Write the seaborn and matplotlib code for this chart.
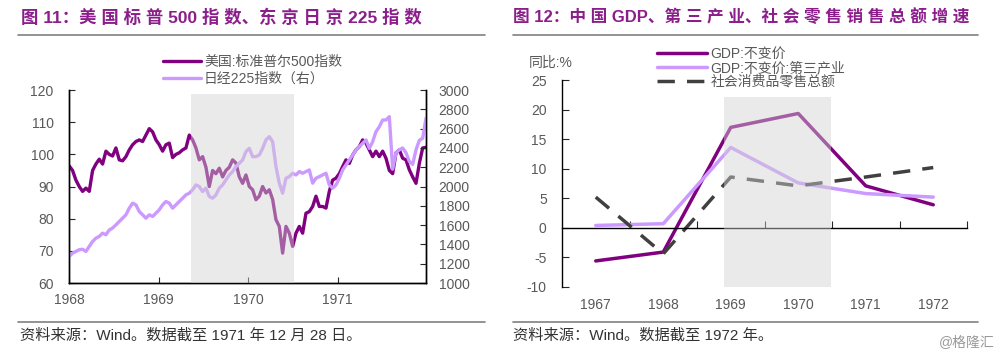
import numpy as np
import pandas as pd
import matplotlib
matplotlib.use("Agg")
import matplotlib.pyplot as plt
import matplotlib.dates as mdates
from matplotlib.lines import Line2D
import seaborn as sns

sns.set_style("ticks")
plt.rcParams['font.family'] = ['Liberation Sans', 'Noto Sans CJK SC']
plt.rcParams['axes.unicode_minus'] = False

# ---- 图11 data (roughly every 2 weeks)
sp500 = [96.4, 95, 92, 90, 88.5, 89.5, 88.5, 95, 97, 98.5, 97, 101, 100, 99.5, 102,
         98.3, 98, 99.3, 101.4, 103, 104, 104.5, 104, 106, 108, 107, 104.5, 103, 101,
         103, 103.5, 99, 100, 100.5, 101.4, 102, 106, 104.5, 102, 98.3, 99.3, 96, 90,
         95, 94, 95.7, 93, 95, 96, 98.3, 97.3, 93, 91, 93.6, 90, 89, 85.9, 87, 90, 88,
         89, 86, 79.7, 77.6, 69.3, 77.6, 75.5, 71.4, 75.5, 77.6, 75.5, 81.7, 82.2, 83.8,
         87, 83.8, 83.8, 83.3, 88.5, 92, 92.6, 94, 96.2, 98.3, 97.2, 99.8, 101.4, 102.4,
         104.5, 103.5, 101.4, 99.3, 101, 99.3, 101, 98.8, 95, 94, 100.5, 101.4, 98.8,
         98.3, 95.2, 93, 91, 97.2, 102, 102.2]
nikkei = [1276, 1310, 1327, 1345, 1350, 1327, 1380, 1430, 1465, 1483, 1517, 1500, 1550,
          1570, 1603, 1638, 1672, 1707, 1776, 1828, 1810, 1741, 1707, 1672, 1707, 1690,
          1724, 1759, 1810, 1845, 1828, 1776, 1810, 1845, 1879, 1914, 1931, 1966, 2017,
          2000, 1948, 1983, 1897, 1879, 1914, 1983, 2017, 2069, 2120, 2155, 2207, 2241,
          2276, 2362, 2396, 2310, 2310, 2327, 2396, 2483, 2517, 2465, 2207, 2035, 1931,
          2086, 2103, 2138, 2120, 2155, 2138, 2155, 2172, 2035, 2086, 2103, 2120, 2138,
          2017, 1983, 2017, 2086, 2172, 2224, 2276, 2327, 2379, 2414, 2448, 2483, 2396,
          2465, 2569, 2620, 2690, 2690, 2724, 2180, 2350, 2380, 2400, 2350, 2260, 2230,
          2380, 2480, 2500, 2710]
dates = pd.date_range("1968-01-02", "1971-12-28", periods=len(sp500))
shade_left = (pd.Timestamp("1969-05-12"), pd.Timestamp("1970-07-08"))

# ---- 图12 data
years = ["1967", "1968", "1969", "1970", "1971", "1972"]
gdp = [-5.6, -4.1, 17.0, 19.35, 7.1, 3.9]
gdp_tertiary = [0.4, 0.7, 13.6, 7.6, 5.8, 5.2]
retail = [5.2, -4.4, 8.6, 7.1, 8.6, 10.2]
shade_right = (1.9, 3.48)

dark = "#800080"
light = "#CC99FF"
grey = "#595959"
title_c = "#8B1E8B"
shade_c = "#D2D2D2"

fig = plt.figure(figsize=(10, 3.56), dpi=100)

# titles + rules
fig.text(0.021, 1 - 17 / 356, "图 11：美 国 标 普 500 指 数、东 京 日 京 225 指 数",
         fontsize=12.5, weight="bold", color=title_c, va="center")
fig.text(0.513, 1 - 17 / 356, "图 12：中 国 GDP、第 三 产 业、社 会 零 售 销 售 总 额 增 速",
         fontsize=12, weight="bold", color=title_c, va="center")
for x0, x1 in [(0.018, 0.485), (0.513, 0.978)]:
    fig.add_artist(Line2D([x0, x1], [1 - 35 / 356] * 2, transform=fig.transFigure, color="#808080", lw=1.2))
    fig.add_artist(Line2D([x0, x1], [1 - 322 / 356] * 2, transform=fig.transFigure, color="#808080", lw=1.2))

fig.text(0.020, 1 - 336 / 356, "资料来源：Wind。数据截至 1971 年 12 月 28 日。", fontsize=11, color="#333333", va="center")
fig.text(0.513, 1 - 336 / 356, "资料来源：Wind。数据截至 1972 年。", fontsize=11, color="#333333", va="center")
fig.text(0.995, 1 - 343 / 356, "@格隆汇", fontsize=10, color="#999999", va="center", ha="right")

# ---- left chart
ax1 = fig.add_axes([0.069, 0.205, 0.357, 0.542])
sns.lineplot(x=dates, y=sp500, ax=ax1, color=dark, lw=2.4, label="美国:标准普尔500指数", legend=False)
ax2 = ax1.twinx()
sns.lineplot(x=dates, y=nikkei, ax=ax2, color=light, lw=2.4, label="日经225指数（右）", legend=False)
ax2.axvspan(shade_left[0], shade_left[1], ymin=0, ymax=0.979, color=shade_c, alpha=0.45, lw=0, zorder=5)

ax1.set_ylim(60, 120)
ax1.set_yticks(range(60, 121, 10))
ax2.set_ylim(1000, 3000)
ax2.set_yticks(range(1000, 3001, 200))
ax1.set_xlim(pd.Timestamp("1968-01-01"), pd.Timestamp("1971-12-28"))
ax1.xaxis.set_major_locator(mdates.YearLocator())
ax1.xaxis.set_major_formatter(mdates.DateFormatter("%Y"))
ax1.set_xlabel("")
ax1.set_ylabel("")
ax2.set_ylabel("")
for a in (ax1, ax2):
    a.spines["top"].set_visible(False)
    for s in a.spines.values():
        s.set_color("black")
        s.set_linewidth(1)
ax1.tick_params(axis="y", direction="in", length=4, labelsize=10, labelcolor=grey, pad=11)
ax1.tick_params(axis="x", direction="in", length=4, labelsize=10, labelcolor=grey, pad=7)
ax2.tick_params(axis="y", direction="in", length=4, labelsize=10, labelcolor=grey, pad=9)

h = ax1.get_lines()[:1] + ax2.get_lines()[:1]
ax2.legend(h, [l.get_label() for l in h], loc="upper left",
           bbox_to_anchor=(0.163, 1 - 55 / 356), bbox_transform=fig.transFigure,
           frameon=False, borderpad=0, borderaxespad=0, handlelength=2.7,
           handletextpad=0.25, labelspacing=0.2, fontsize=10, labelcolor=grey)

# ---- right chart
ax3 = fig.add_axes([0.562, 0.194, 0.405, 0.581])
sns.lineplot(x=years, y=gdp, ax=ax3, color=dark, lw=2.5, label="GDP:不变价", legend=False)
sns.lineplot(x=years, y=gdp_tertiary, ax=ax3, color=light, lw=2.5, label="GDP:不变价:第三产业", legend=False)
sns.lineplot(x=years, y=retail, ax=ax3, color="#404040", lw=2.5, dashes=(5, 3.5),
             label="社会消费品零售总额", legend=False)
ax3.axvspan(shade_right[0], shade_right[1], ymin=0, ymax=(22.1 + 10) / 35, color=shade_c, alpha=0.45, lw=0, zorder=5)

ax3.set_ylim(-10, 25)
ax3.set_yticks(range(-10, 26, 5))
ax3.set_xlim(-0.5, 5.5)
ax3.set_xticks(np.arange(0.5, 6, 1))
ax3.set_xticklabels([])
ax3.set_xlabel("")
ax3.set_ylabel("")
ax3.spines["top"].set_visible(False)
ax3.spines["right"].set_visible(False)
ax3.spines["bottom"].set_position(("data", 0))
for s in ax3.spines.values():
    s.set_color("black")
    s.set_linewidth(1)
ax3.tick_params(axis="y", direction="in", length=5, labelsize=10, labelcolor=grey, pad=11)
ax3.tick_params(axis="x", direction="in", length=5)

sec = ax3.secondary_xaxis("bottom")
sec.set_xticks(range(len(years)), labels=years)
sec.tick_params(length=0, pad=8, labelsize=10, labelcolor=grey)
sec.spines["bottom"].set_visible(False)

ax3.legend(loc="upper left", bbox_to_anchor=(0.657, 1 - 47 / 356), bbox_transform=fig.transFigure,
           frameon=False, borderpad=0, borderaxespad=0, handlelength=3.6,
           handletextpad=0.25, labelspacing=0.0, fontsize=10, labelcolor=grey)
fig.text(0.529, 1 - 63 / 356, "同比:%", fontsize=10, color=grey, va="center")

fig.savefig("out.png", dpi=100)
